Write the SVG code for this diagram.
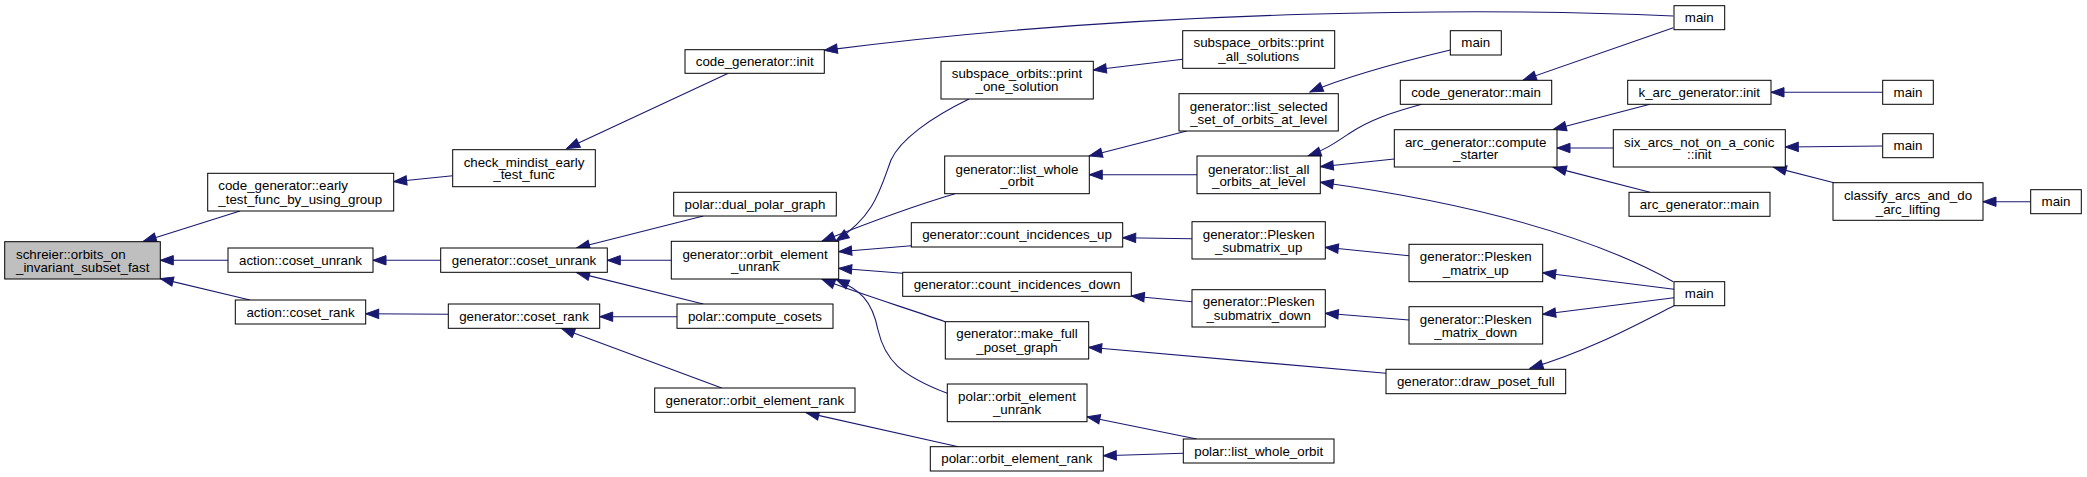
<svg xmlns="http://www.w3.org/2000/svg" width="2087" height="477" viewBox="0 0 2087 477">
<style>
.n rect{fill:#fff;stroke:#000;stroke-width:1}
.n.root rect{fill:#bfbfbf}
.n text{font-family:"Liberation Sans",Arial,sans-serif;font-size:13.33px;fill:#000;text-anchor:middle}
.n text.l{text-anchor:start}
#edges path{fill:none;stroke:#191970;stroke-width:1.1;marker-end:url(#ah)}
</style>
<defs>
<marker id="ah" markerUnits="userSpaceOnUse" markerWidth="14" markerHeight="11" refX="13" refY="5" orient="auto" overflow="visible">
<path d="M0,0.3 L13,5 L0,9.7 z" fill="#191970" stroke="#191970" stroke-width="1"/>
</marker>
</defs>
<rect width="2087" height="477" fill="#fff"/>
<g id="edges">
<path d="M240,211 L143.3,241.4"/>
<path d="M228,260.3 L160.3,260.3"/>
<path d="M250,300 L160.3,278.6"/>
<path d="M452.7,175.7 L393.7,181.7"/>
<path d="M440.7,260.3 L373,260.3"/>
<path d="M448.3,314.3 L365.7,313.8"/>
<path d="M728.3,73.3 L566.7,148.6"/>
<path d="M703.3,216 L576.7,248"/>
<path d="M671.3,260.3 L607.3,260.3"/>
<path d="M703.3,304 L576.7,272.6"/>
<path d="M677,316.7 L599.7,316.7"/>
<path d="M721.7,388 L561.7,328.6"/>
<path d="M1673.3,16 C1500,8 1150,8 824.3,50.4"/>
<path d="M969,99 C930,118 900,140 891,160 C880,190 875,215 836,241"/>
<path d="M955,193.7 C920,204 880,218 822,241.2"/>
<path d="M911.3,245.7 L838.7,251.7"/>
<path d="M902.7,273.3 L838.7,268.3"/>
<path d="M945.3,321.7 C900,306 860,294 822,279.3"/>
<path d="M947.3,393.3 C900,375 885,360 878,330 C872,300 860,290 836,279.3"/>
<path d="M958.3,446.7 L806,412.6"/>
<path d="M1182.7,59.3 L1093.3,70"/>
<path d="M1186.7,131 L1089.3,156"/>
<path d="M1197,174.7 L1089.3,174.7"/>
<path d="M1192,238.7 L1122.7,237.7"/>
<path d="M1192,301.7 L1131.3,296"/>
<path d="M1386,373.3 L1088.7,347.3"/>
<path d="M1196.7,439 L1087,416.7"/>
<path d="M1183.3,453.3 L1103.3,455.7"/>
<path d="M1450.3,50 C1400,62 1350,75 1310,92"/>
<path d="M1421.7,104.3 C1390,113 1370,120 1350,133 C1335,143 1325,150 1308,156"/>
<path d="M1394.3,159 L1320.3,166.7"/>
<path d="M1673.3,281.7 C1590,235 1470,203 1320.3,182.3"/>
<path d="M1673.3,27.7 L1523.3,80"/>
<path d="M1650,104.3 L1553.3,129.5"/>
<path d="M1613.3,148 L1557,148"/>
<path d="M1650,192.3 L1553.3,167.4"/>
<path d="M1409,255.7 L1325.3,247.3"/>
<path d="M1409,320 L1325.3,313.3"/>
<path d="M1674,289.3 L1542.7,272.7"/>
<path d="M1674,297.7 L1542.7,314.3"/>
<path d="M1674,305.7 C1630,328 1590,350 1530,368.4"/>
<path d="M1882.7,92.3 L1771,92.3"/>
<path d="M1882.7,146 L1785.3,147"/>
<path d="M1834,182.7 L1773.3,167.1"/>
<path d="M2030.7,201.7 L1983,201.7"/>
</g>
<g id="n_schreier" class="n root"><rect x="4.7" y="241.7" width="155.6" height="37.3"/><text class="l" x="16" y="258.5">schreier::orbits_on</text><text class="l" x="16" y="271.5">_invariant_subset_fast</text></g>
<g id="n_cg_early" class="n"><rect x="207.7" y="173.3" width="186" height="37.7"/><text class="l" x="218.3" y="190.2">code_generator::early</text><text class="l" x="218.3" y="203.5">_test_func_by_using_group</text></g>
<g id="n_act_unrank" class="n"><rect x="228" y="248" width="145" height="24.3"/><text x="300.5" y="264.8">action::coset_unrank</text></g>
<g id="n_act_rank" class="n"><rect x="235.3" y="300" width="130.4" height="24"/><text x="300.5" y="316.6">action::coset_rank</text></g>
<g id="n_check_mindist" class="n"><rect x="452.7" y="149.7" width="142.6" height="37"/><text x="524" y="166.5">check_mindist_early</text><text x="524" y="179.2">_test_func</text></g>
<g id="n_gen_coset_unrank" class="n"><rect x="440.7" y="248" width="166.6" height="24.3"/><text x="524" y="264.8">generator::coset_unrank</text></g>
<g id="n_gen_coset_rank" class="n"><rect x="448.3" y="304" width="151.4" height="24.3"/><text x="524" y="320.7">generator::coset_rank</text></g>
<g id="n_cg_init" class="n"><rect x="685" y="49.7" width="139.3" height="23.6"/><text x="754.7" y="66">code_generator::init</text></g>
<g id="n_dual_polar" class="n"><rect x="673.7" y="192.3" width="162.6" height="23.7"/><text x="755" y="208.7">polar::dual_polar_graph</text></g>
<g id="n_gen_oe_unrank" class="n"><rect x="671.3" y="241.3" width="167.4" height="37.7"/><text x="755" y="258.5">generator::orbit_element</text><text x="755" y="271.2">_unrank</text></g>
<g id="n_compute_cosets" class="n"><rect x="677" y="304" width="156" height="24.3"/><text x="755" y="320.7">polar::compute_cosets</text></g>
<g id="n_gen_oe_rank" class="n"><rect x="654.7" y="388" width="200.3" height="24.3"/><text x="754.8" y="404.7">generator::orbit_element_rank</text></g>
<g id="n_so_print_one" class="n"><rect x="941" y="61.3" width="152.3" height="37.7"/><text x="1017" y="77.8">subspace_orbits::print</text><text x="1017" y="91.2">_one_solution</text></g>
<g id="n_list_whole" class="n"><rect x="944.7" y="156" width="144.6" height="37.7"/><text x="1017" y="173.5">generator::list_whole</text><text x="1017" y="186.2">_orbit</text></g>
<g id="n_count_up" class="n"><rect x="911.3" y="222.7" width="211.4" height="24.3"/><text x="1017" y="239.3">generator::count_incidences_up</text></g>
<g id="n_count_down" class="n"><rect x="902.7" y="272.3" width="228.6" height="24"/><text x="1017" y="288.8">generator::count_incidences_down</text></g>
<g id="n_make_full" class="n"><rect x="945.3" y="321.7" width="143.4" height="37.3"/><text x="1017" y="338.2">generator::make_full</text><text x="1017" y="351.5">_poset_graph</text></g>
<g id="n_polar_oe_unrank" class="n"><rect x="947.3" y="384" width="139.7" height="37.7"/><text x="1017" y="401.2">polar::orbit_element</text><text x="1017" y="414.2">_unrank</text></g>
<g id="n_polar_oe_rank" class="n"><rect x="930.3" y="446.7" width="173" height="24.3"/><text x="1016.8" y="463.3">polar::orbit_element_rank</text></g>
<g id="n_so_print_all" class="n"><rect x="1182.7" y="30.7" width="152" height="37.6"/><text x="1258.7" y="47.2">subspace_orbits::print</text><text x="1258.7" y="60.5">_all_solutions</text></g>
<g id="n_list_selected" class="n"><rect x="1179" y="93.7" width="159.3" height="37.3"/><text x="1258.7" y="110.5">generator::list_selected</text><text x="1258.7" y="123.5">_set_of_orbits_at_level</text></g>
<g id="n_list_all" class="n"><rect x="1197" y="156" width="123.3" height="37.7"/><text x="1258.7" y="173.5">generator::list_all</text><text x="1258.7" y="186.2">_orbits_at_level</text></g>
<g id="n_pl_sub_up" class="n"><rect x="1192" y="221.7" width="133.3" height="37.3"/><text x="1258.7" y="238.5">generator::Plesken</text><text x="1258.7" y="251.8">_submatrix_up</text></g>
<g id="n_pl_sub_down" class="n"><rect x="1192" y="289.7" width="133.3" height="37.3"/><text x="1258.7" y="306.2">generator::Plesken</text><text x="1258.7" y="319.5">_submatrix_down</text></g>
<g id="n_polar_list_whole" class="n"><rect x="1183.3" y="439" width="150.7" height="24"/><text x="1258.7" y="455.5">polar::list_whole_orbit</text></g>
<g id="n_main2" class="n"><rect x="1450.3" y="30.7" width="51" height="24.3"/><text x="1475.8" y="47.3">main</text></g>
<g id="n_cg_main" class="n"><rect x="1400.3" y="80.3" width="151.4" height="24"/><text x="1476" y="96.8">code_generator::main</text></g>
<g id="n_compute_starter" class="n"><rect x="1394.3" y="129.7" width="162.7" height="37.3"/><text x="1475.7" y="146.5">arc_generator::compute</text><text x="1475.7" y="159.2">_starter</text></g>
<g id="n_pl_mat_up" class="n"><rect x="1409" y="244.3" width="133.7" height="37.4"/><text x="1475.8" y="261.2">generator::Plesken</text><text x="1475.8" y="274.5">_matrix_up</text></g>
<g id="n_pl_mat_down" class="n"><rect x="1409" y="306.7" width="133.7" height="37.3"/><text x="1475.8" y="323.5">generator::Plesken</text><text x="1475.8" y="336.8">_matrix_down</text></g>
<g id="n_draw_poset" class="n"><rect x="1386" y="369.3" width="179.7" height="24.4"/><text x="1475.8" y="386">generator::draw_poset_full</text></g>
<g id="n_main1" class="n"><rect x="1674" y="5.7" width="50.7" height="24"/><text x="1699.3" y="22.2">main</text></g>
<g id="n_k_arc_init" class="n"><rect x="1627.7" y="80.3" width="143.3" height="24"/><text x="1699.3" y="96.8">k_arc_generator::init</text></g>
<g id="n_six_arcs" class="n"><rect x="1613.3" y="129.7" width="172" height="37.3"/><text x="1699.3" y="146.5">six_arcs_not_on_a_conic</text><text x="1699.3" y="159.2">::init</text></g>
<g id="n_arc_gen_main" class="n"><rect x="1629" y="192.3" width="141" height="24"/><text x="1699.5" y="208.8">arc_generator::main</text></g>
<g id="n_main3" class="n"><rect x="1674" y="281.7" width="50.7" height="24"/><text x="1699.3" y="298.2">main</text></g>
<g id="n_main4" class="n"><rect x="1882.7" y="80.3" width="50.6" height="24"/><text x="1908" y="96.8">main</text></g>
<g id="n_main5" class="n"><rect x="1882.7" y="133.7" width="50.6" height="24"/><text x="1908" y="150.2">main</text></g>
<g id="n_classify" class="n"><rect x="1833" y="182.7" width="150" height="37.6"/><text x="1908" y="199.5">classify_arcs_and_do</text><text x="1908" y="213.5">_arc_lifting</text></g>
<g id="n_main6" class="n"><rect x="2030.7" y="189.7" width="50.6" height="24"/><text x="2056" y="206.2">main</text></g>
</svg>
